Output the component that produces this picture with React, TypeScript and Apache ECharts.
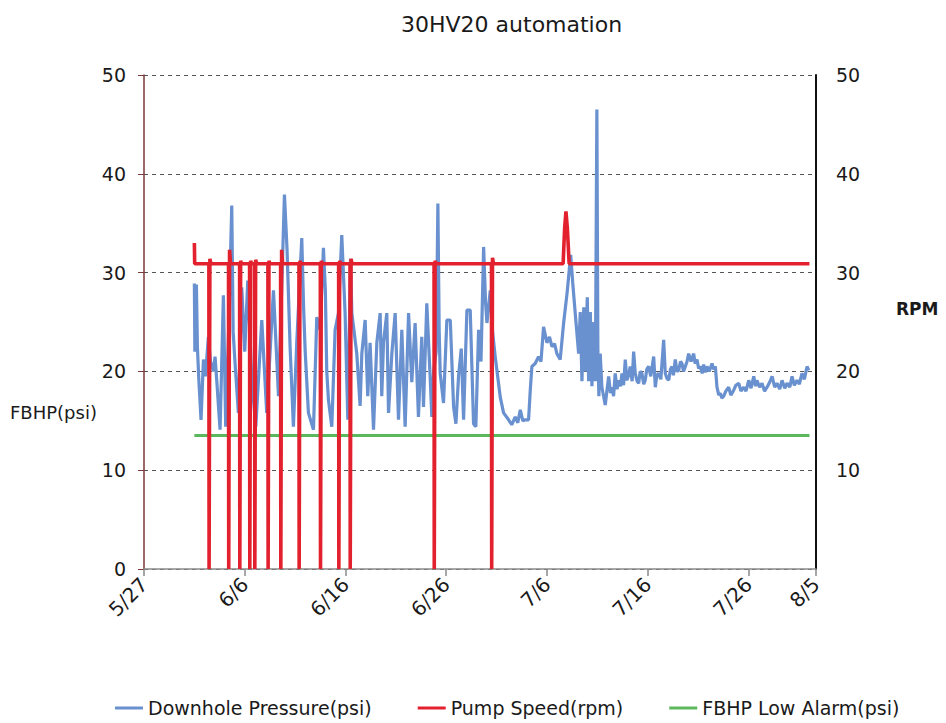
import React, { useEffect, useRef } from "react";
import * as echarts from "echarts";

// x values: days since 5/27
const xTickLabels = ["5/27", "6/6", "6/16", "6/26", "7/6", "7/16", "7/26", "8/5"];
const leftTicks = [0, 10, 20, 30, 40, 50];

const downholePressure: [number, number][] = [
  [5.0, 28.9], [5.05, 22.0], [5.2, 28.8], [5.3, 22.5], [5.45, 19.0], [5.66, 15.1], [5.9, 21.2], [6.1, 19.5],
  [6.39, 23.5], [6.6, 21.0], [6.89, 20.0], [7.05, 21.5], [7.22, 19.1], [7.55, 14.1], [7.88, 27.7], [8.11, 14.4],
  [8.45, 26.0], [8.71, 36.8], [8.85, 24.0], [9.04, 20.8], [9.37, 15.8], [9.7, 28.5], [10.0, 22.0], [10.3, 29.2],
  [10.7, 19.1], [11.1, 14.4], [11.69, 25.2], [12.18, 15.8], [12.85, 28.2], [13.35, 17.5], [13.94, 37.9], [14.2, 32.3],
  [14.5, 22.5], [14.83, 14.4], [15.16, 22.9], [15.66, 33.5], [15.85, 26.2], [16.0, 22.0], [16.32, 15.8], [16.82, 14.1],
  [17.15, 25.5], [17.48, 24.2], [17.81, 32.5], [18.0, 28.2], [18.14, 20.0], [18.31, 17.1], [18.64, 14.4], [18.97, 24.2],
  [19.3, 25.9], [19.63, 33.8], [19.96, 25.9], [20.23, 15.1], [20.5, 31.4], [20.63, 25.9], [21.12, 21.8], [21.45, 16.5],
  [21.62, 21.8], [21.95, 25.2], [22.21, 17.5], [22.44, 22.9], [22.78, 14.1], [23.11, 22.9], [23.44, 25.9], [23.6, 17.5],
  [23.77, 22.9], [24.1, 25.9], [24.27, 15.8], [24.6, 21.8], [24.93, 25.9], [25.26, 15.1], [25.59, 24.2], [25.92, 14.4],
  [26.26, 25.9], [26.58, 18.9], [26.91, 24.9], [27.24, 15.4], [27.57, 23.5], [27.74, 16.4], [28.07, 26.9], [28.4, 19.5],
  [28.57, 15.4], [28.75, 20.0], [29.0, 22.0], [29.17, 37.0], [29.3, 24.0], [29.4, 19.8], [29.73, 16.8], [30.06, 25.2],
  [30.4, 25.2], [30.73, 16.4], [30.96, 14.7], [31.22, 19.5], [31.49, 22.3], [31.72, 15.1], [32.05, 26.2], [32.38, 26.2],
  [32.71, 14.7], [32.94, 14.4], [33.21, 24.2], [33.45, 21.0], [33.71, 32.6], [33.9, 27.0], [34.04, 24.9], [34.37, 28.2],
  [34.6, 24.0], [34.86, 21.5], [35.36, 17.4], [35.69, 15.8], [36.19, 15.1], [36.5, 14.6], [36.85, 15.4], [37.1, 14.8],
  [37.35, 16.1], [37.6, 15.0], [37.84, 15.1], [38.17, 15.1], [38.34, 18.1], [38.5, 20.5], [38.83, 20.8], [39.16, 21.5],
  [39.4, 21.0], [39.66, 24.5], [39.99, 22.9], [40.25, 23.5], [40.49, 22.5], [40.75, 22.8], [40.98, 21.8], [41.31, 21.2],
  [41.65, 24.9], [42.0, 28.0], [42.35, 31.8], [42.55, 29.0], [42.8, 25.9], [43.14, 21.8], [43.3, 26.0], [43.47, 19.0],
  [43.65, 26.5], [43.8, 20.0], [44.0, 27.5], [44.13, 19.0], [44.3, 26.0], [44.46, 18.5], [44.65, 25.0], [44.8, 19.0],
  [44.95, 46.5], [45.05, 22.0], [45.15, 17.5], [45.28, 21.8], [45.45, 18.4], [45.78, 16.6], [46.12, 19.5], [46.3, 17.8],
  [46.44, 18.4], [46.61, 17.5], [46.77, 19.8], [46.95, 18.2], [47.11, 19.1], [47.3, 18.5], [47.44, 19.8], [47.6, 18.6],
  [47.77, 21.2], [47.93, 19.1], [48.1, 19.6], [48.26, 20.5], [48.45, 19.0], [48.6, 22.0], [48.76, 19.8], [48.95, 19.0],
  [49.1, 18.8], [49.25, 20.0], [49.42, 19.8], [49.6, 18.7], [49.75, 19.1], [49.9, 20.2], [50.09, 20.5], [50.3, 19.5],
  [50.59, 21.5], [50.75, 18.4], [50.9, 19.6], [51.08, 19.8], [51.3, 19.2], [51.58, 23.2], [51.74, 19.8], [51.9, 19.3],
  [52.08, 19.1], [52.25, 20.2], [52.4, 20.5], [52.55, 19.6], [52.73, 21.2], [52.9, 20.0], [53.07, 20.1], [53.25, 21.0],
  [53.4, 20.8], [53.55, 20.0], [53.73, 20.5], [53.9, 21.0], [54.06, 21.8], [54.3, 21.0], [54.56, 21.8], [54.7, 20.8],
  [54.89, 21.2], [55.05, 20.3], [55.22, 20.5], [55.4, 19.8], [55.55, 20.7], [55.7, 19.9], [55.88, 20.5], [56.1, 20.0],
  [56.38, 20.8], [56.55, 20.2], [56.71, 20.5], [56.87, 18.4], [57.05, 17.6], [57.2, 17.8], [57.35, 17.3], [57.54, 17.5],
  [57.75, 18.0], [58.03, 18.4], [58.25, 17.6], [58.53, 18.1], [58.75, 18.6], [59.03, 18.8], [59.25, 18.0], [59.52, 18.4],
  [59.75, 18.0], [60.02, 19.1], [60.25, 18.3], [60.52, 19.5], [60.7, 18.5], [60.84, 19.1], [61.1, 18.4], [61.34, 18.8],
  [61.6, 18.0], [61.84, 18.4], [62.1, 18.9], [62.34, 19.5], [62.6, 18.4], [62.83, 18.8], [63.1, 18.2], [63.33, 19.1],
  [63.6, 18.3], [63.83, 18.8], [64.1, 18.4], [64.32, 19.5], [64.55, 18.6], [64.82, 19.1], [65.05, 18.7], [65.31, 19.8],
  [65.55, 19.2], [65.81, 20.5], [65.98, 20.1],
];

const pumpSpeed: [number, number][] = [
  [5.0, 33.0], [5.03, 30.9],
  [6.44, 30.9], [6.46, 0], [6.52, 0], [6.54, 31.4], [6.64, 30.9],
  [8.39, 30.9], [8.41, 0], [8.47, 0], [8.49, 32.3], [8.59, 30.9],
  [9.49, 30.9], [9.51, 0], [9.57, 0], [9.59, 31.2], [9.69, 30.9],
  [10.48, 30.9], [10.5, 0], [10.56, 0], [10.58, 31.2], [10.68, 30.9],
  [10.98, 30.9], [11.0, 0], [11.06, 0], [11.08, 31.3], [11.18, 30.9],
  [12.3, 30.9], [12.32, 0], [12.38, 0], [12.4, 31.2], [12.5, 30.9],
  [13.56, 30.9], [13.58, 0], [13.64, 0], [13.66, 32.3], [13.76, 30.9],
  [15.38, 30.9], [15.4, 0], [15.46, 0], [15.48, 31.2], [15.58, 30.9],
  [17.5, 30.9], [17.52, 0], [17.58, 0], [17.6, 31.2], [17.7, 30.9],
  [19.32, 30.9], [19.34, 0], [19.4, 0], [19.42, 31.2], [19.52, 30.9],
  [20.45, 30.9], [20.47, 0], [20.53, 0], [20.55, 31.4], [20.65, 30.9],
  [28.79, 30.9], [28.81, 0], [28.87, 0], [28.89, 31.2], [28.99, 30.9],
  [34.49, 30.9], [34.51, 0], [34.57, 0], [34.59, 31.5], [34.69, 30.9],
  [41.6, 30.9], [41.75, 34.5], [41.88, 36.2], [42.02, 34.5], [42.2, 30.9],
  [66.05, 30.9],
];

const lowAlarm: [number, number][] = [
  [5.0, 13.5], [66.05, 13.5],
];

const FONT = "'DejaVu Sans', 'Liberation Sans', sans-serif";
const TEXT = "#1a1a1a";

export default function App() {
  const ref = useRef<HTMLDivElement>(null);
  useEffect(() => {
    document.body.style.margin = "0";
    const chart = echarts.init(ref.current!, null, { renderer: "svg" });
    chart.setOption({
      animation: false,
      backgroundColor: "#ffffff",
      textStyle: { fontFamily: FONT },
      title: {
        text: "30HV20 automation",
        left: 396,
        top: 8,
        textStyle: { fontFamily: FONT, fontSize: 22, fontWeight: "normal", color: TEXT },
      },
      grid: { left: 144, right: 130, top: 75, bottom: 154 },
      legend: {
        left: 110,
        top: 692,
        icon: "rect",
        itemWidth: 28,
        itemHeight: 3,
        itemGap: 46,
        textStyle: { fontFamily: FONT, fontSize: 19, color: TEXT, lineHeight: 22 },
        data: ["Downhole Pressure(psi)", "Pump Speed(rpm)", "FBHP Low Alarm(psi)"],
      },
      xAxis: {
        type: "value",
        min: 0,
        max: 66.7,
        interval: 10,
        axisLine: { show: true, lineStyle: { color: "#8a8a8a", width: 1.5 } },
        axisTick: { show: true, length: 7, lineStyle: { color: "#8a8a8a", width: 1.5 } },
        splitLine: { show: false },
        axisLabel: {
          rotate: 45,
          margin: 12,
          fontFamily: FONT,
          fontSize: 20,
          color: TEXT,
          formatter: (v: number) => xTickLabels[Math.round(v / 10)] ?? "",
        },
      },
      yAxis: [
        {
          type: "value",
          min: leftTicks[0],
          max: leftTicks[leftTicks.length - 1],
          interval: 10,
          axisLine: { show: true, lineStyle: { color: "#7a3a3a", width: 1.5 } },
          axisTick: { show: true, length: 6, lineStyle: { color: "#7a3a3a" } },
          splitLine: { show: true, lineStyle: { color: "#555", type: [4, 4], width: 1 } },
          axisLabel: { fontFamily: FONT, fontSize: 19, color: TEXT, margin: 18 },
        },
        {
          type: "value",
          position: "right",
          min: 0,
          max: 50,
          interval: 10,
          axisLine: { show: true, lineStyle: { color: "#111", width: 2 } },
          axisTick: { show: false },
          splitLine: { show: false },
          axisLabel: { fontFamily: FONT, fontSize: 19, color: TEXT, margin: 20, showMinLabel: false },
        },
      ],
      graphic: [
        {
          type: "text",
          left: 10,
          top: 403,
          style: { text: "FBHP(psi)", fontFamily: FONT, fontSize: 18, fill: TEXT },
        },
        {
          type: "text",
          left: 896,
          top: 300,
          style: { text: "RPM", fontFamily: FONT, fontSize: 17, fontWeight: "bold", fill: TEXT },
        },
      ],
      series: [
        {
          name: "Downhole Pressure(psi)",
          type: "line",
          data: downholePressure,
          showSymbol: false,
          symbol: "none",
          lineStyle: { color: "#6990cf", width: 3.2 },
          itemStyle: { color: "#6990cf" },
          z: 2,
        },
        {
          name: "FBHP Low Alarm(psi)",
          type: "line",
          data: lowAlarm,
          showSymbol: false,
          symbol: "none",
          lineStyle: { color: "#5cb85c", width: 3 },
          itemStyle: { color: "#5cb85c" },
          z: 3,
        },
        {
          name: "Pump Speed(rpm)",
          type: "line",
          yAxisIndex: 1,
          data: pumpSpeed,
          showSymbol: false,
          symbol: "none",
          lineStyle: { color: "#e3202d", width: 3.6 },
          itemStyle: { color: "#e3202d" },
          z: 4,
        },
      ],
    });
    return () => chart.dispose();
  }, []);
  return <div ref={ref} style={{ width: 946, height: 723 }} />;
}
